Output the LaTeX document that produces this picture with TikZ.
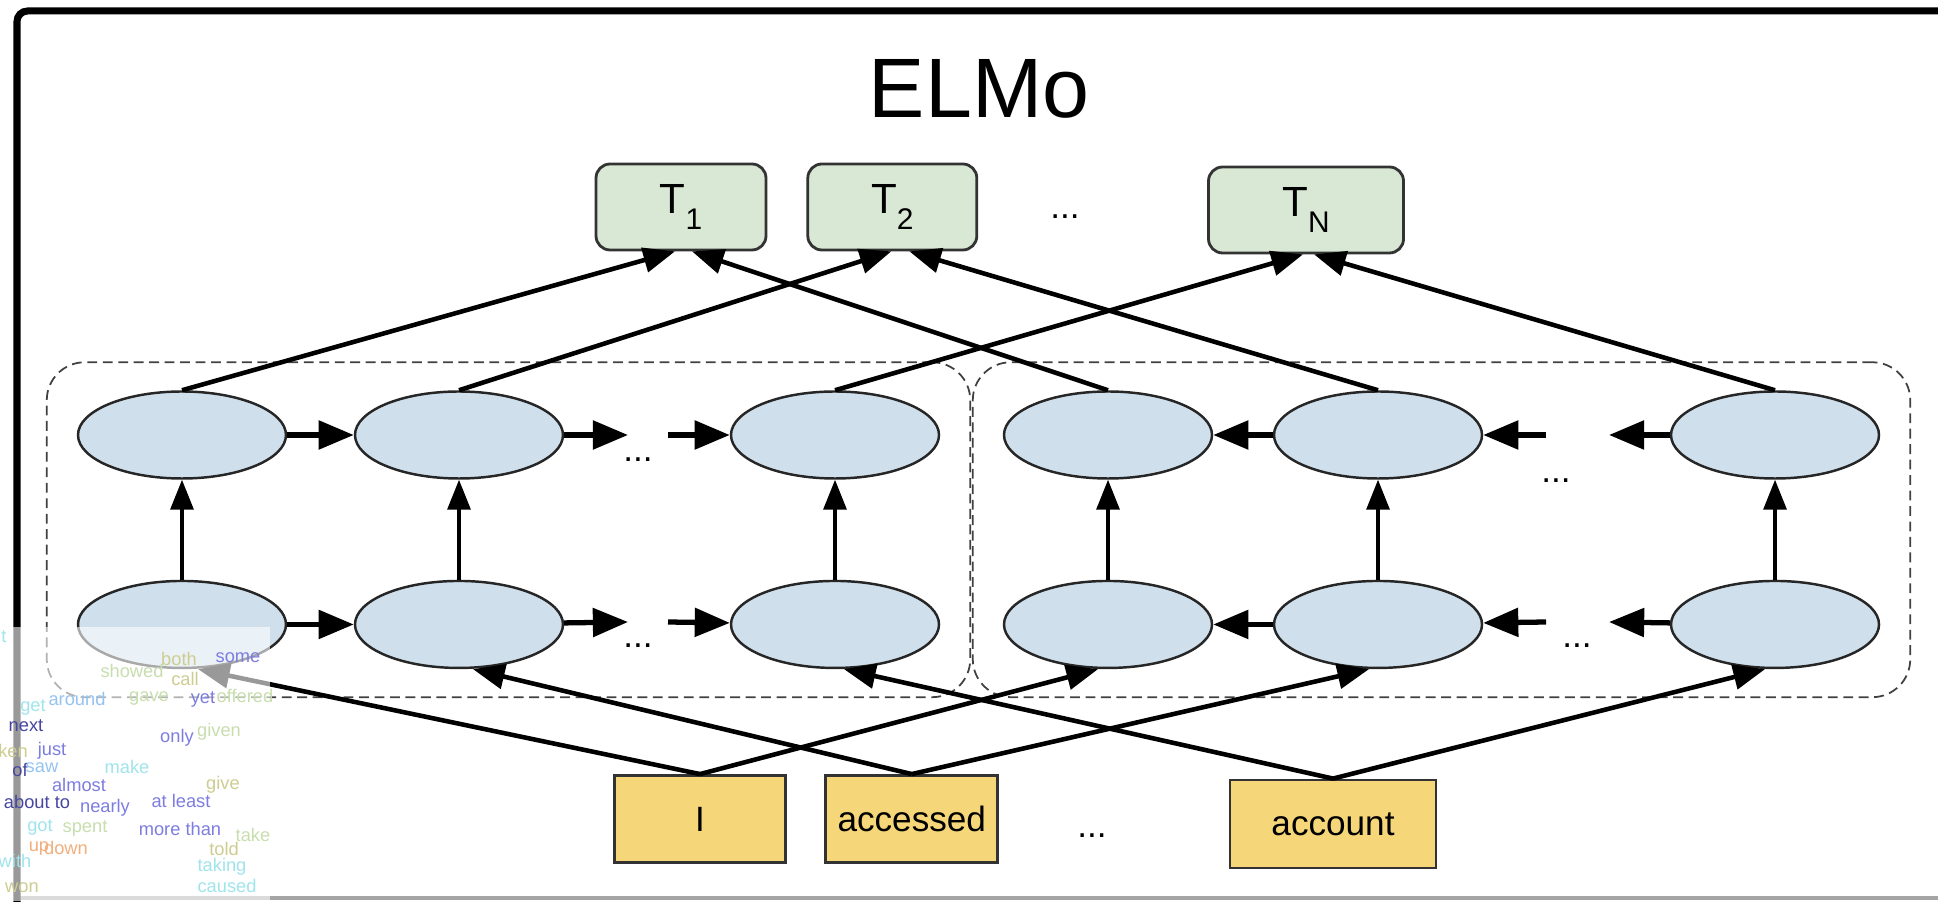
\documentclass[tikz,border=0pt]{standalone}
\usepackage{fontspec}
\setmainfont{Liberation Sans}
\usepackage{tikz}
\definecolor{cellblue}{RGB}{207, 224, 236}
\definecolor{outgreen}{RGB}{217, 232, 212}
\definecolor{wordyellow}{RGB}{245, 214, 120}
\definecolor{framegray}{RGB}{165, 165, 165}
\definecolor{cloudblue}{RGB}{125, 125, 225}
\definecolor{cloudnavy}{RGB}{70, 70, 160}
\definecolor{cloudcyan}{RGB}{160, 228, 236}
\definecolor{cloudgreen}{RGB}{200, 222, 175}
\definecolor{cloudolive}{RGB}{205, 205, 145}
\definecolor{cloudsky}{RGB}{150, 195, 240}
\definecolor{cloudorange}{RGB}{240, 175, 125}
\usetikzlibrary{shapes,arrows.meta,positioning,calc,fit}

\newcommand{\tok}[1]{T\raisebox{-0.7ex}{\fontsize{8.5}{9}\selectfont #1}}

\begin{document}
\begin{tikzpicture}[
    every node/.style={align=center},
    cell/.style={ellipse, draw=black!85, line width=0.7pt, fill=cellblue, minimum width=2.08cm, minimum height=0.87cm, inner sep=0pt},
    outbox/.style={rectangle, rounded corners=4pt, draw=black!80, line width=0.8pt, fill=outgreen, minimum height=0.86cm, font=\fontsize{12}{14}\selectfont},
    wordbox/.style={rectangle, draw=black!80, line width=0.8pt, fill=wordyellow, minimum height=0.87cm, font=\fontsize{10}{12}\selectfont},
    group/.style={draw=black!75, dash pattern=on 2.8pt off 1.6pt, line width=0.5pt, rounded corners=0.38cm, inner xsep=0.3cm, inner ysep=0.28cm},
    arrow/.style={-{Triangle[length=9pt,width=7pt]}, line width=1.3pt},
    rnnarrow/.style={-{Triangle[length=10pt,width=8pt]}, line width=1.5pt},
    uparrow/.style={-{Triangle[length=8.5pt,width=6.5pt]}, line width=1pt},
    dots/.style={font=\fontsize{10}{12}\selectfont, inner sep=0pt},
    cloud/.style={font=\fontsize{5.2}{6}\selectfont, inner sep=0pt}
]
    \useasboundingbox (0,0) rectangle (19.38,9.01);

    % Frame
    \draw[framegray, line width=1pt] (0.17,0.03) -- (19.5,0.03);
    \draw[line width=2pt, rounded corners=3pt] (0.17,-0.2) -- (0.17,8.90) -- (19.6,8.90);

    % Title
    \node[font=\fontsize{24}{28}\selectfont] (title) at (9.79,8.12) {ELMo};

    % Output tokens
    \node[outbox, minimum width=1.70cm] (T1) at (6.81,6.94) {\tok{1}};
    \node[outbox, minimum width=1.69cm, right=0.39cm of T1] (T2) {\tok{2}};
    \node[dots] (tdots) at (10.65,6.84) {...};
    \node[outbox, minimum width=1.95cm] (TN) at (13.06,6.91) {\tok{N}};

    % Forward layers
    \node[cell] (lt1) at (1.82,4.66) {};
    \node[cell] (lt2) at (4.59,4.66) {};
    \node[cell] (lt3) at (8.35,4.66) {};
    \node[cell, below=1cm of lt1] (lb1) {};
    \node[cell, below=1cm of lt2] (lb2) {};
    \node[cell, below=1cm of lt3] (lb3) {};

    % Backward layers
    \node[cell] (rt1) at (11.08,4.66) {};
    \node[cell] (rt2) at (13.78,4.66) {};
    \node[cell] (rt3) at (17.75,4.66) {};
    \node[cell, below=1cm of rt1] (rb1) {};
    \node[cell, below=1cm of rt2] (rb2) {};
    \node[cell, below=1cm of rt3] (rb3) {};

    \node[group, fit=(lt1)(lb3)] (fwd) {};
    \node[group, fit=(rt1)(rb3)] (bwd) {};

    \node[dots] (ltdots) at (6.38,4.41) {...};
    \node[dots] (lbdots) at (6.38,2.55) {...};
    \node[dots] (rtdots) at (15.56,4.20) {...};
    \node[dots] (rbdots) at (15.77,2.55) {...};

    % Input words
    \node[wordbox, minimum width=1.71cm] (I) at (7.00,0.82) {I};
    \node[wordbox, minimum width=1.70cm, right=0.375cm of I] (accessed) {accessed};
    \node[dots] (wdots) at (10.92,0.65) {...};
    \node[wordbox, minimum width=2.06cm, minimum height=0.88cm] (account) at (13.33,0.77) {account};

    % Free ends of the recurrent arrows
    \coordinate (lttip) at (6.28,4.66);
    \coordinate (ltstart) at (6.68,4.66);
    \coordinate (lbtip) at (6.28,2.79);
    \coordinate (lbstart) at (6.68,2.79);
    \coordinate (rtstart) at (15.46,4.66);
    \coordinate (rttip) at (16.09,4.66);
    \coordinate (rbstart) at (15.46,2.79);
    \coordinate (rbtip) at (16.09,2.79);

    % Recurrent arrows
    \draw[rnnarrow] (lt1) -- (lt2);
    \draw[rnnarrow] (lt2) -- (lttip);
    \draw[rnnarrow] (ltstart) -- (lt3);
    \draw[rnnarrow] (lb1) -- (lb2);
    \draw[rnnarrow] (lb2) -- (lbtip);
    \draw[rnnarrow] (lbstart) -- (lb3);
    \draw[rnnarrow] (rt2) -- (rt1);
    \draw[rnnarrow] (rtstart) -- (rt2);
    \draw[rnnarrow] (rt3) -- (rttip);
    \draw[rnnarrow] (rb2) -- (rb1);
    \draw[rnnarrow] (rbstart) -- (rb2);
    \draw[rnnarrow] (rb3) -- (rbtip);

    % Layer to layer
    \draw[uparrow] (lb1) -- (lt1);
    \draw[uparrow] (lb2) -- (lt2);
    \draw[uparrow] (lb3) -- (lt3);
    \draw[uparrow] (rb1) -- (rt1);
    \draw[uparrow] (rb2) -- (rt2);
    \draw[uparrow] (rb3) -- (rt3);

    % Top layer to outputs
    \draw[arrow] (lt1.north) -- ([xshift=-0.06cm]T1.south);
    \draw[arrow] (lt2.north) -- ([xshift=-0.01cm]T2.south);
    \draw[arrow] (lt3.north) -- ([xshift=-0.03cm]TN.south);
    \draw[arrow] (rt1.north) -- ([xshift=0.11cm]T1.south);
    \draw[arrow] (rt2.north) -- ([xshift=0.17cm]T2.south);
    \draw[arrow] (rt3.north) -- ([xshift=0.08cm]TN.south);

    % Inputs to bottom layer
    \draw[arrow] (I.north) -- ([xshift=0.16cm]lb1.south);
    \draw[arrow] (I.north) -- ([xshift=-0.10cm]rb1.south);
    \draw[arrow] (accessed.north) -- ([xshift=0.14cm]lb2.south);
    \draw[arrow] (accessed.north) -- ([xshift=-0.09cm]rb2.south);
    \draw[arrow] (account.north) -- ([xshift=0.09cm]lb3.south);
    \draw[arrow] (account.north) -- ([xshift=-0.10cm]rb3.south);

    % Word cloud overlay
    \fill[white, opacity=0.6] (0,0) rectangle (2.70,2.74);
    \foreach \w/\x/\y/\c [count=\i] in {
        t/0.04/2.64/cloudcyan, both/1.79/2.42/cloudolive, some/2.38/2.43/cloudblue,
        showed/1.32/2.30/cloudgreen, call/1.85/2.22/cloudolive, gave/1.49/2.03/cloudgreen,
        yet/2.03/2.02/cloudblue, offered/2.45/2.05/cloudgreen, around/0.77/2.02/cloudsky,
        get/0.33/1.94/cloudcyan, next/0.26/1.75/cloudnavy, only/1.77/1.63/cloudblue,
        given/2.19/1.69/cloudgreen, ken/0.13/1.50/cloudolive, just/0.52/1.50/cloudblue,
        of/0.20/1.31/cloudnavy, saw/0.42/1.33/cloudsky, make/1.27/1.34/cloudcyan,
        almost/0.79/1.16/cloudblue, give/2.23/1.16/cloudolive, about to/0.37/0.99/cloudnavy,
        nearly/1.05/0.93/cloudblue, at least/1.81/1.00/cloudblue, got/0.40/0.74/cloudcyan,
        spent/0.85/0.73/cloudgreen, more than/1.80/0.72/cloudblue, take/2.53/0.66/cloudgreen,
        told/2.24/0.52/cloudolive, with/0.15/0.40/cloudcyan, up/0.39/0.53/cloudorange,
        down/0.66/0.53/cloudorange, taking/2.22/0.34/cloudcyan, caused/2.27/0.15/cloudcyan,
        won/0.22/0.13/cloudolive}{
        \node[cloud, text=\c] (w\i) at (\x,\y) {\w};
    }
\end{tikzpicture}
\end{document}
